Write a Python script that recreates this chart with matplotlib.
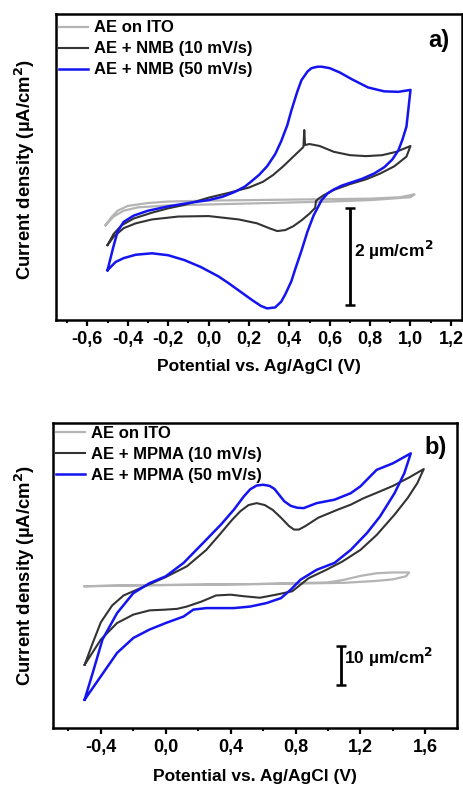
import matplotlib
matplotlib.use("Agg")
import matplotlib.pyplot as plt
from matplotlib.ticker import MultipleLocator, FuncFormatter

plt.rcParams['font.family'] = ['Liberation Sans', 'DejaVu Sans']
plt.rcParams['font.weight'] = 'bold'

# ---------------- Panel a data (potential V, current density uA/cm2) ----------------
a_ito_x = [-0.51, -0.48, -0.45, -0.40, -0.30, -0.20, 0.0, 0.2, 0.4, 0.6, 0.8, 0.95, 1.02,
           1.00, 0.8, 0.6, 0.4, 0.2, 0.0, -0.2, -0.35, -0.42, -0.47, -0.51]
a_ito_y = [-0.52, -0.35, -0.22, -0.12, -0.06, -0.03, -0.01, 0.00, 0.01, 0.02, 0.03, 0.06, 0.12,
           0.06, 0.00, -0.03, -0.05, -0.07, -0.09, -0.11, -0.15, -0.22, -0.34, -0.52]

a_10_x = [-0.50, -0.47, -0.43, -0.37, -0.28, -0.20, -0.12, 0.0, 0.10, 0.20, 0.27, 0.32, 0.37,
          0.42, 0.45, 0.470, 0.474, 0.478, 0.50, 0.55, 0.62, 0.70, 0.78, 0.86, 0.93, 1.00,
          0.98, 0.92, 0.85, 0.78, 0.70, 0.62, 0.57, 0.545, 0.532, 0.528, 0.50, 0.46, 0.42, 0.38,
          0.34, 0.30, 0.24, 0.15, 0.0, -0.15, -0.28, -0.36, -0.42, -0.47, -0.50]
a_10_y = [-0.93, -0.70, -0.52, -0.38, -0.26, -0.17, -0.10, 0.05, 0.15, 0.26, 0.38, 0.52, 0.70,
          0.90, 1.02, 1.10, 1.45, 1.14, 1.16, 1.12, 1.00, 0.93, 0.91, 0.93, 1.00, 1.12,
          0.90, 0.70, 0.55, 0.43, 0.33, 0.21, 0.10, 0.03, -0.02, -0.16, -0.28, -0.42, -0.54, -0.62,
          -0.64, -0.58, -0.48, -0.40, -0.33, -0.34, -0.40, -0.48, -0.58, -0.76, -0.93]

a_50_x = [-0.50, -0.47, -0.45, -0.42, -0.37, -0.30, -0.20, -0.10, 0.0, 0.07, 0.13, 0.18, 0.21,
          0.25, 0.29, 0.33, 0.36, 0.39, 0.41, 0.44, 0.46, 0.49, 0.51, 0.54, 0.56, 0.60, 0.65,
          0.71, 0.79, 0.87, 0.94, 1.00,
          0.99, 0.98, 0.96, 0.94, 0.91, 0.87, 0.82, 0.76, 0.71, 0.66, 0.62, 0.59, 0.56, 0.54,
          0.52, 0.49, 0.46, 0.43, 0.41, 0.38, 0.36, 0.33, 0.29, 0.26, 0.22, 0.16, 0.10, 0.05,
          -0.04, -0.12, -0.20, -0.28, -0.36, -0.42, -0.46, -0.50]
a_50_y = [-1.45, -0.95, -0.65, -0.45, -0.32, -0.22, -0.13, -0.06, 0.00, 0.07, 0.17, 0.28, 0.38,
          0.52, 0.70, 0.95, 1.22, 1.55, 1.85, 2.25, 2.48, 2.66, 2.73, 2.76, 2.76, 2.73, 2.64,
          2.50, 2.33, 2.25, 2.24, 2.28,
          1.90, 1.52, 1.25, 1.03, 0.84, 0.68, 0.55, 0.44, 0.37, 0.30, 0.22, 0.14, 0.00, -0.16,
          -0.32, -0.65, -1.05, -1.42, -1.68, -1.95, -2.10, -2.22, -2.24, -2.19, -2.08, -1.90, -1.72, -1.58,
          -1.38, -1.24, -1.14, -1.10, -1.13, -1.20, -1.28, -1.45]

# ---------------- Panel b data ----------------
b_ito_x = [-0.50, -0.20, 0.2, 0.6, 1.0, 1.1, 1.2, 1.3, 1.4, 1.5,
           1.48, 1.4, 1.3, 1.1, 0.8, 0.4, 0.0, -0.5]
b_ito_y = [-0.4, -0.1, 0.0, 0.2, 0.6, 1.3, 2.3, 3.0, 3.2, 3.2,
           2.2, 1.4, 1.0, 0.5, 0.3, 0.1, -0.1, -0.4]

b_10_x = [-0.50, -0.45, -0.40, -0.33, -0.26, -0.15, 0.0, 0.13, 0.25, 0.33, 0.41, 0.46, 0.51,
          0.56, 0.61, 0.66, 0.71, 0.76, 0.79, 0.82, 0.86, 0.94, 1.06, 1.14, 1.22, 1.30, 1.40,
          1.50, 1.59,
          1.55, 1.49, 1.41, 1.30, 1.20, 1.09, 0.99, 0.88, 0.78, 0.68, 0.58, 0.48, 0.40, 0.31,
          0.22, 0.13, 0.07, 0.0, -0.10, -0.20, -0.30, -0.40, -0.50]
b_10_y = [-20.9, -15.2, -9.8, -5.4, -2.8, -0.8, 2.0, 4.8, 9.1, 13.0, 17.0, 19.2, 20.8,
          21.3, 20.8, 19.5, 17.5, 15.3, 14.4, 14.4, 15.3, 17.5, 19.6, 20.9, 22.6, 24.0, 25.8,
          28.0, 30.2,
          26.5, 22.6, 18.3, 13.0, 9.1, 6.1, 3.9, 1.7, -1.7, -2.6, -3.4, -3.0, -2.6, -2.8,
          -4.4, -5.7, -6.3, -6.5, -6.7, -7.8, -10.0, -14.3, -20.9]

b_50_x = [-0.50, -0.45, -0.39, -0.30, -0.20, -0.10, 0.0, 0.11, 0.23, 0.34, 0.42, 0.48, 0.52,
          0.56, 0.60, 0.64, 0.67, 0.70, 0.73, 0.77, 0.81, 0.85, 0.93, 1.04, 1.14, 1.20, 1.26,
          1.30, 1.40, 1.51,
          1.47, 1.41, 1.32, 1.24, 1.14, 1.04, 0.93, 0.83, 0.77, 0.71, 0.62, 0.52, 0.42, 0.25,
          0.17, 0.11, 0.0, -0.10, -0.20, -0.30, -0.40, -0.50]
b_50_y = [-30.0, -23.0, -14.3, -7.4, -2.2, 0.4, 2.2, 5.7, 10.9, 15.7, 19.6, 23.0, 24.9,
          25.9, 26.1, 25.8, 25.0, 23.4, 21.8, 20.6, 20.1, 20.0, 21.3, 22.2, 23.9, 25.7, 28.3,
          30.0, 31.7, 34.3,
          29.1, 23.9, 17.8, 13.5, 9.1, 5.7, 3.9, 1.3, -1.3, -3.5, -4.8, -5.7, -6.1, -6.1,
          -6.5, -8.3, -10.0, -11.7, -13.9, -17.8, -23.9, -30.0]

labels_a = ["AE on ITO", "AE + NMB (10 mV/s)", "AE + NMB (50 mV/s)"]
labels_b = ["AE on ITO", "AE + MPMA (10 mV/s)", "AE + MPMA (50 mV/s)"]

C_ITO = '#b4b4b4'
C_10 = '#333333'
C_50 = '#1414f0'

fig = plt.figure(figsize=(4.64, 7.87), dpi=100)
ax1 = fig.add_axes([0.1207, 0.5934, 0.875, 0.3888])
ax2 = fig.add_axes([0.1142, 0.075, 0.8708, 0.3879])

comma = FuncFormatter(lambda v, p: ("%.1f" % v).replace('.', ',').replace('-0,0', '0,0'))


def style(ax, xlim, ylim, major, minor, xl_y, yl_x, yl_y):
    ax.set_xlim(*xlim)
    ax.set_ylim(*ylim)
    ax.xaxis.set_major_locator(MultipleLocator(major))
    ax.xaxis.set_minor_locator(MultipleLocator(minor))
    ax.xaxis.set_major_formatter(comma)
    ax.set_yticks([])
    for s in ax.spines.values():
        s.set_linewidth(1.8)
    ax.tick_params(axis='x', which='major', direction='out', length=4, width=1.6,
                   labelsize=13, pad=4)
    ax.tick_params(axis='x', which='minor', direction='out', length=2.5, width=1.4)
    for t in ax.get_xticklabels():
        t.set_fontweight('bold')
    ax.set_xlabel("Potential vs. Ag/AgCl (V)", fontsize=12.5, fontweight='bold')
    ax.xaxis.set_label_coords(0.5, xl_y)
    ax.set_ylabel("Current density (µA/cm$^\\mathbf{2}$)", fontsize=13.3, fontweight='bold')
    ax.yaxis.set_label_coords(yl_x, yl_y)


def legend(ax, top):
    leg = ax.legend(loc='upper left', frameon=False, fontsize=12, handlelength=1.7,
                    handletextpad=0.4, labelspacing=0.36, borderaxespad=0.0,
                    borderpad=0.2, bbox_to_anchor=(0.0, top))
    for t in leg.get_texts():
        t.set_fontweight('bold')


# Panel a
ax1.plot(a_ito_x, a_ito_y, color=C_ITO, lw=1.6, label=labels_a[0])
ax1.plot(a_10_x, a_10_y, color=C_10, lw=1.5, label=labels_a[1])
ax1.plot(a_50_x, a_50_y, color=C_50, lw=1.8, label=labels_a[2])
style(ax1, (-0.755, 1.255), (-2.48, 3.85), 0.2, 0.1, -0.128, -0.047, 0.49)
ax1.errorbar([0.70], [-1.17], yerr=[[1.0], [1.0]], fmt='none', ecolor='black',
             elinewidth=2.0, capsize=3.5, capthick=1.8)
ax1.text(0.72, -1.05, "2 µm/cm$^\\mathbf{2}$", fontsize=12.5, fontweight='bold',
         ha='left', va='center')
ax1.text(1.19, 3.30, "a)", fontsize=17, fontweight='bold', ha='right', va='center')
legend(ax1, 0.99)

# Panel b
ax2.plot(b_ito_x, b_ito_y, color=C_ITO, lw=1.6, label=labels_b[0])
ax2.plot(b_10_x, b_10_y, color=C_10, lw=1.5, label=labels_b[1])
ax2.plot(b_50_x, b_50_y, color=C_50, lw=1.8, label=labels_b[2])
style(ax2, (-0.695, 1.795), (-37.4, 42.3), 0.4, 0.2, -0.135, -0.040, 0.5)
ax2.errorbar([1.08], [-21.1], yerr=[[5.0], [5.0]], fmt='none', ecolor='black',
             elinewidth=2.0, capsize=3.5, capthick=1.8)
ax2.text(1.10, -19.0, "10 µm/cm$^\\mathbf{2}$", fontsize=12.5, fontweight='bold',
         ha='left', va='center')
ax2.text(1.73, 35.7, "b)", fontsize=17, fontweight='bold', ha='right', va='center')
legend(ax2, 1.0)

fig.savefig("out.png", dpi=100)
